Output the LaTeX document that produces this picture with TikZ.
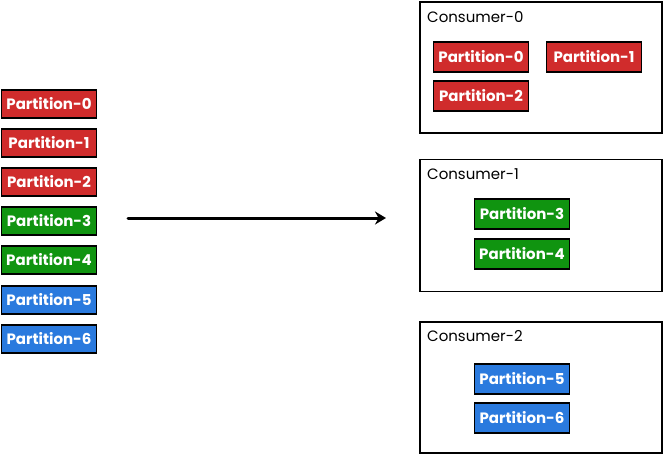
\documentclass[tikz,border=0pt]{standalone}
\usepackage{fontspec}
\setmainfont{Poppins}
\usetikzlibrary{arrows.meta}
\definecolor{pred}{RGB}{208,44,44}
\definecolor{pgreen}{RGB}{16,148,16}
\definecolor{pblue}{RGB}{42,122,222}
\begin{document}
\begin{tikzpicture}[x=1pt,y=-1pt,
  part/.style={draw=black,line width=1.8pt,minimum width=95pt,minimum height=28pt,inner sep=0pt,
    text=white,font=\fontsize{15}{17}\selectfont\bfseries},
  redp/.style={part,fill=pred},
  greenp/.style={part,fill=pgreen},
  bluep/.style={part,fill=pblue},
  cons/.style={draw=black,line width=1.8pt,fill=white,inner sep=0pt},
  clabel/.style={anchor=west,inner sep=0pt,font=\fontsize{15}{17}\selectfont,text=black},
  flow/.style={line width=3pt,line cap=round,-{Stealth[length=11pt,width=13pt]}}]
\useasboundingbox (0,0) rectangle (664,456);
% left column
\node[redp] (l0) at (49,104) {Partition-0};
\node[redp] (l1) at (49,143) {Partition-1};
\node[redp] (l2) at (49,182) {Partition-2};
\node[greenp] (l3) at (49,221) {Partition-3};
\node[greenp] (l4) at (49,260) {Partition-4};
\node[bluep] (l5) at (49,300) {Partition-5};
\node[bluep] (l6) at (49,339) {Partition-6};
% arrow
\coordinate (as) at (128,218);
\coordinate (ae) at (386,218);
\draw[flow] (as) -- (ae);
% consumers
\node[cons,minimum width=242pt,minimum height=131pt] (c0) at (541,67.5) {};
\node[cons,minimum width=242pt,minimum height=132pt] (c1) at (541,225.5) {};
\node[cons,minimum width=242pt,minimum height=131pt] (c2) at (541,387.5) {};
\node[clabel] (c0l) at (427,17) {Consumer-0};
\node[clabel] (c1l) at (427,174) {Consumer-1};
\node[clabel] (c2l) at (427,336) {Consumer-2};
\node[redp,minimum height=30pt] (r0) at (481,57) {Partition-0};
\node[redp,minimum height=30pt] (r1) at (594,57) {Partition-1};
\node[redp,minimum height=30pt] (r2) at (481,96) {Partition-2};
\node[greenp,minimum height=30pt] (r3) at (522,214) {Partition-3};
\node[greenp,minimum height=30pt] (r4) at (522,254) {Partition-4};
\node[bluep,minimum height=30pt] (r5) at (522,379) {Partition-5};
\node[bluep,minimum height=30pt] (r6) at (522,418) {Partition-6};
\end{tikzpicture}
\end{document}
